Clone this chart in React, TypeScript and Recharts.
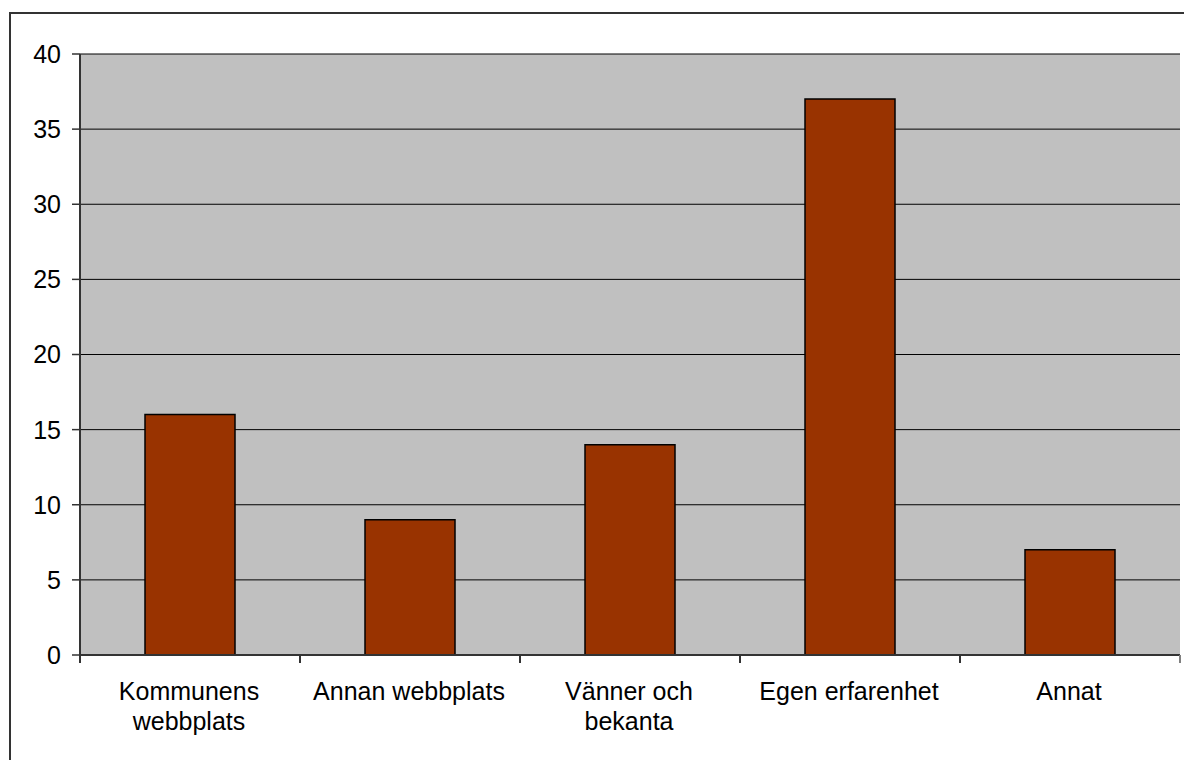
import React from "react";
import { BarChart, Bar, XAxis, YAxis, CartesianGrid } from "recharts";

const categories = [
  ["Kommunens", "webbplats"],
  ["Annan webbplats"],
  ["Vänner och", "bekanta"],
  ["Egen erfarenhet"],
  ["Annat"],
];
const values = [16, 9, 14, 37, 7];
const yTicks = [0, 5, 10, 15, 20, 25, 30, 35, 40];

const W = 1184;
const H = 760;
const margin = { top: 54, right: 4, left: 0, bottom: 0 };
const Y_W = 80;
const X_H = 105;
const band = (W - margin.left - margin.right - Y_W) / categories.length;

const data = categories.map((c, i) => ({ name: c.join("\n"), value: values[i] }));

const font = { fontFamily: "'Liberation Sans', Arial, sans-serif", fontSize: 25, fill: "#000" };

/* eslint-disable @typescript-eslint/no-explicit-any */
function CatTick({ x, y, payload, index }: any) {
  const lines = String(payload.value).split("\n");
  return (
    <g>
      <line x1={x - band / 2} x2={x - band / 2} y1={y} y2={y + 8} stroke="#333" strokeWidth={2} />
      {index === categories.length - 1 && (
        <line x1={x + band / 2} x2={x + band / 2} y1={y} y2={y + 8} stroke="#808080" strokeWidth={2} />
      )}
      <text x={x - 1} y={y + 45} textAnchor="middle" {...font}>
        {lines.map((l, i) => (
          <tspan key={i} x={x - 1} dy={i === 0 ? 0 : 30}>
            {l}
          </tspan>
        ))}
      </text>
    </g>
  );
}
/* eslint-enable @typescript-eslint/no-explicit-any */

export default function App() {
  return (
    <div style={{ position: "fixed", left: 0, top: 0, width: W, height: H, overflow: "hidden", background: "#fff" }}>
      <div
        style={{
          position: "absolute",
          left: 9,
          top: 12,
          width: 1400,
          height: 1000,
          borderTop: "2px solid #333",
          borderLeft: "2px solid #333",
        }}
      />
      <div style={{ position: "absolute", left: 0, top: 0 }}>
        <BarChart width={W} height={H} data={data} margin={margin}>
          <CartesianGrid vertical={false} stroke="#000" fill="#C0C0C0" fillOpacity={1} strokeWidth={1} />
          <XAxis
            dataKey="name"
            height={X_H}
            interval={0}
            tickLine={false}
            tickSize={0}
            tickMargin={0}
            axisLine={{ stroke: "#333", strokeWidth: 2 }}
            tick={<CatTick />}
          />
          <XAxis
            xAxisId="top"
            dataKey="name"
            orientation="top"
            height={0}
            tick={false}
            tickLine={false}
            axisLine={{ stroke: "#808080", strokeWidth: 2 }}
          />
          <YAxis
            width={Y_W}
            domain={[0, 40]}
            ticks={yTicks}
            interval={0}
            tickSize={8}
            tickMargin={11}
            axisLine={{ stroke: "#333", strokeWidth: 2 }}
            tickLine={{ stroke: "#333", strokeWidth: 1.5 }}
            tick={font}
          />
          <YAxis
            yAxisId="right"
            orientation="right"
            width={0}
            tick={false}
            tickLine={false}
            axisLine={{ stroke: "#808080", strokeWidth: 2 }}
          />
          <Bar dataKey="value" fill="#993300" stroke="#000" strokeWidth={1.5} barSize={90} isAnimationActive={false} />
        </BarChart>
      </div>
    </div>
  );
}
